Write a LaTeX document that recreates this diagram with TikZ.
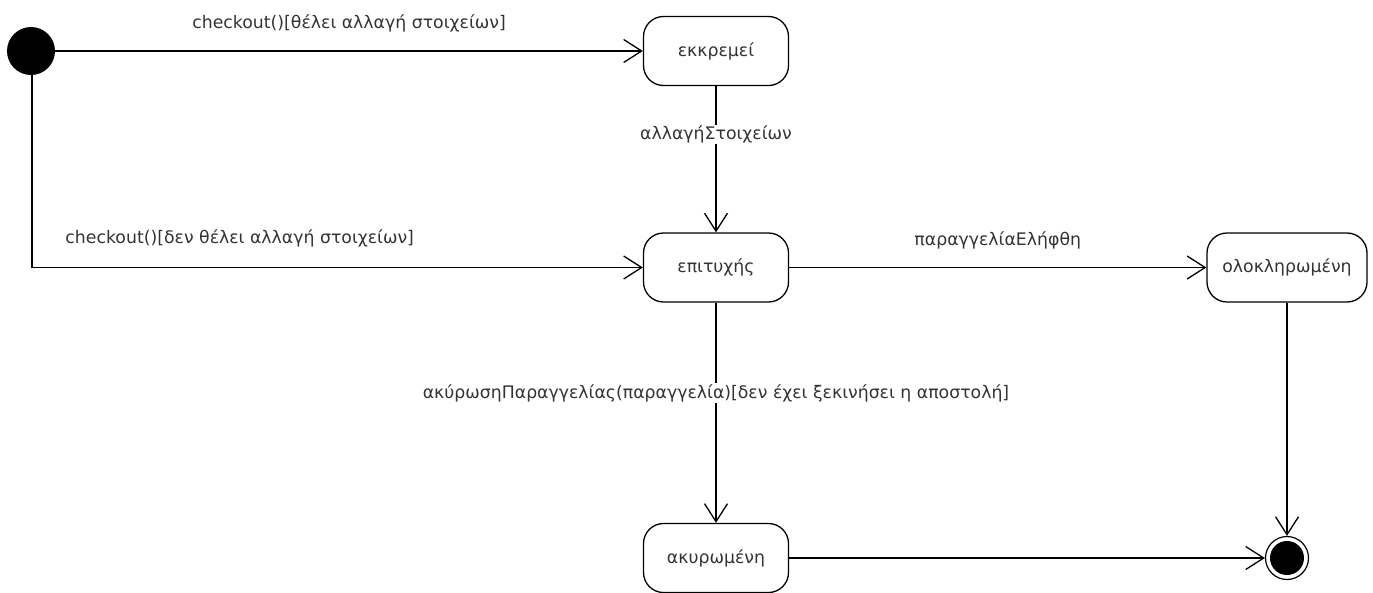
\documentclass[tikz,border=0pt]{standalone}
\usepackage{fontspec}
\setmainfont{DejaVu Sans}
\usetikzlibrary{arrows.meta}

\begin{document}
\begin{tikzpicture}[x=1pt, y=-1pt,
  font=\fontsize{17.3}{20}\selectfont,
  state/.style={draw, line width=1.3pt, rounded corners=20pt, minimum width=145pt,
                minimum height=69pt, inner sep=0pt, text=black!80},
  trans/.style={line width=1.3pt, -{Straight Barb[length=18pt, width=23pt, line width=1.3pt]}},
  lbl/.style={text=black!80, inner sep=1pt},
  initial/.style={circle, fill=black, minimum size=48pt, inner sep=0pt},
  final/.style={circle, draw, line width=1.2pt, minimum size=43pt, inner sep=0pt,
                path picture={\fill (path picture bounding box.center) circle (17pt);}}
]
\useasboundingbox (0,0) rectangle (1373,592);

% states
\node[initial] (init) at (31,51) {};
\node[state] (pend) at (716,51) {εκκρεμεί};
\node[state] (succ) at (716,267.5) {επιτυχής};
\node[state, minimum width=160pt] (done) at (1287,267.5) {ολοκληρωμένη};
\node[state] (canc) at (716,558) {ακυρωμένη};
\node[final] (fin) at (1287,558) {};

% transitions
\draw[trans] (init) -- node[lbl, midway, yshift=28pt] {checkout()[θέλει αλλαγή στοιχείων]} (pend);
\draw[trans] (pend) -- node[lbl, pos=0.33, fill=white] {αλλαγήΣτοιχείων} (succ);
\draw[trans] (init.south -| 32,0) |- node[lbl, pos=0.67, yshift=29pt] {checkout()[δεν θέλει αλλαγή στοιχείων]} (succ);
\draw[trans] (succ) -- node[lbl, midway, yshift=27pt] {παραγγελίαΕλήφθη} (done);
\draw[trans] (succ) -- node[lbl, pos=0.41, fill=white] {ακύρωσηΠαραγγελίας(παραγγελία)[δεν έχει ξεκινήσει η αποστολή]} (canc);
\draw[trans] (canc) -- (fin);
\draw[trans] (done) -- (fin);
\end{tikzpicture}
\end{document}
